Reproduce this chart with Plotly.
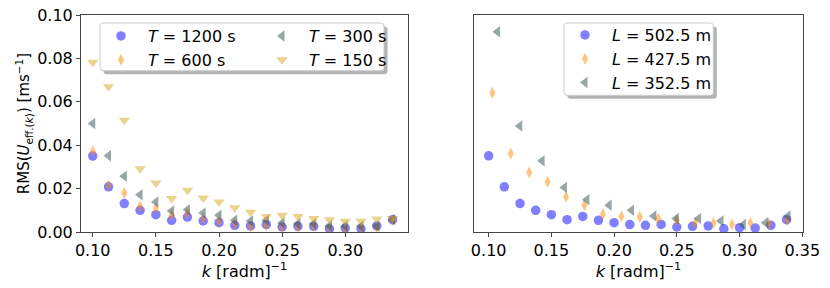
import plotly.graph_objects as go

W, H = 830, 288

# ---------------- data ----------------
k_T = [0.1000, 0.1125, 0.1250, 0.1375, 0.1500, 0.1625, 0.1750, 0.1875, 0.2000, 0.2125,
       0.2250, 0.2375, 0.2500, 0.2625, 0.2750, 0.2875, 0.3000, 0.3125, 0.3250, 0.3375]

rms_T1200 = [0.0350, 0.0208, 0.0131, 0.0100, 0.0080, 0.0054, 0.0069, 0.0051, 0.0043, 0.0031,
             0.0028, 0.0034, 0.0023, 0.0026, 0.0026, 0.0015, 0.0018, 0.0015, 0.0028, 0.0057]
rms_T600 = [0.0372, 0.0215, 0.0180, 0.0118, 0.0108, 0.0077, 0.0085, 0.0062, 0.0051, 0.0038,
            0.0026, 0.0031, 0.0023, 0.0023, 0.0028, 0.0018, 0.0015, 0.0018, 0.0023, 0.0054]
rms_T300 = [0.0500, 0.0351, 0.0257, 0.0172, 0.0138, 0.0097, 0.0103, 0.0088, 0.0077, 0.0054,
            0.0051, 0.0054, 0.0042, 0.0038, 0.0038, 0.0029, 0.0026, 0.0026, 0.0028, 0.0057]
rms_T150 = [0.0782, 0.0669, 0.0515, 0.0292, 0.0226, 0.0154, 0.0192, 0.0157, 0.0138, 0.0112,
            0.0091, 0.0072, 0.0077, 0.0072, 0.0062, 0.0057, 0.0049, 0.0049, 0.0060, 0.0062]

k_L502 = k_T
rms_L502 = [0.0351, 0.0208, 0.0131, 0.0100, 0.0080, 0.0057, 0.0072, 0.0054, 0.0043, 0.0034,
            0.0031, 0.0035, 0.0023, 0.0026, 0.0028, 0.0015, 0.0020, 0.0018, 0.0031, 0.0057]

k_L427 = [0.1029, 0.1176, 0.1323, 0.1470, 0.1617, 0.1764, 0.1911, 0.2058, 0.2205,
          0.2352, 0.2499, 0.2646, 0.2793, 0.2940, 0.3087, 0.3234, 0.3381]
rms_L427 = [0.0642, 0.0362, 0.0274, 0.0231, 0.0162, 0.0123, 0.0082, 0.0072, 0.0069,
            0.0062, 0.0054, 0.0042, 0.0042, 0.0035, 0.0042, 0.0038, 0.0054]

k_L352 = [0.1070, 0.1248, 0.1426, 0.1604, 0.1783, 0.1961, 0.2139, 0.2317, 0.2496,
          0.2674, 0.2852, 0.3030, 0.3209, 0.3387]
rms_L352 = [0.0923, 0.0488, 0.0328, 0.0205, 0.0149, 0.0123, 0.0100, 0.0074, 0.0062,
            0.0062, 0.0051, 0.0034, 0.0043, 0.0074]

labels_T = ["<i>T</i> = 1200 s", "<i>T</i> = 600 s", "<i>T</i> = 300 s", "<i>T</i> = 150 s"]
labels_L = ["<i>L</i> = 502.5 m", "<i>L</i> = 427.5 m", "<i>L</i> = 352.5 m"]

xticks_left = [0.10, 0.15, 0.20, 0.25, 0.30]
xticks_right = [0.10, 0.15, 0.20, 0.25, 0.30, 0.35]
yticks = [0.00, 0.02, 0.04, 0.06, 0.08, 0.10]

# ---------------- styles ----------------
C_BLUE = "rgb(0,0,255)"
C_ORANGE = "rgb(255,140,0)"
C_GREY = "rgb(47,79,79)"
C_GOLD = "rgb(218,165,32)"
FONT = "DejaVu Sans"
AX = "#444444"


def mk(color, symbol, size):
    return dict(color=color, symbol=symbol, size=size, opacity=0.5, line=dict(width=0))


fig = go.Figure()

fig.add_trace(go.Scatter(x=k_T, y=rms_T1200, mode="markers", name=labels_T[0],
                         marker=mk(C_BLUE, "circle", 9.5), xaxis="x", yaxis="y", legend="legend"))
fig.add_trace(go.Scatter(x=k_T, y=rms_T600, mode="markers", name=labels_T[1],
                         marker=mk(C_ORANGE, "diamond-tall", 8.5), xaxis="x", yaxis="y", legend="legend"))
fig.add_trace(go.Scatter(x=k_T, y=rms_T300, mode="markers", name=labels_T[2],
                         marker=mk(C_GREY, "triangle-left", 10), xaxis="x", yaxis="y", legend="legend3"))
fig.add_trace(go.Scatter(x=k_T, y=rms_T150, mode="markers", name=labels_T[3],
                         marker=mk(C_GOLD, "triangle-down", 10), xaxis="x", yaxis="y", legend="legend3"))

fig.add_trace(go.Scatter(x=k_L502, y=rms_L502, mode="markers", name=labels_L[0],
                         marker=mk(C_BLUE, "circle", 9.5), xaxis="x2", yaxis="y2", legend="legend2"))
fig.add_trace(go.Scatter(x=k_L427, y=rms_L427, mode="markers", name=labels_L[1],
                         marker=mk(C_ORANGE, "diamond-tall", 8.5), xaxis="x2", yaxis="y2", legend="legend2"))
fig.add_trace(go.Scatter(x=k_L352, y=rms_L352, mode="markers", name=labels_L[2],
                         marker=mk(C_GREY, "triangle-left", 10), xaxis="x2", yaxis="y2", legend="legend2"))


def px(x):
    return x / W


def py(y):
    return 1 - y / H


ydom = [py(232), py(15)]

axis_common = dict(showline=True, linecolor=AX, linewidth=1, mirror=True, showgrid=False,
                   zeroline=False, ticks="outside", ticklen=4, tickwidth=1, tickcolor=AX,
                   tickfont=dict(family=FONT, size=16, color="black"), automargin=False)

title_x = dict(text="<i>k</i> [radm]<sup>−1</sup>", font=dict(family=FONT, size=16, color="black"),
               standoff=4)

fig.update_layout(
    width=W, height=H,
    margin=dict(l=0, r=0, t=0, b=0),
    paper_bgcolor="white", plot_bgcolor="white",
    font=dict(family=FONT, size=16, color="black"),
    xaxis=dict(axis_common, domain=[px(81), px(408)], range=[0.0907, 0.3497],
               tickvals=xticks_left, tickformat=".2f", anchor="y", title=title_x),
    yaxis=dict(axis_common, domain=ydom, range=[0, 0.1], tickvals=yticks, tickformat=".2f",
               anchor="x",
               title=dict(text="RMS(<i>U</i><sub>eff.(<i>k</i>)</sub>) [ms<sup>−1</sup>]",
                          font=dict(family=FONT, size=15, color="black"), standoff=3)),
    xaxis2=dict(axis_common, domain=[px(474), px(803)], range=[0.0883, 0.3506],
                tickvals=xticks_right, tickformat=".2f", anchor="y2", title=title_x),
    yaxis2=dict(axis_common, domain=ydom, range=[0, 0.1], tickvals=yticks,
                showticklabels=False, ticks="", anchor="x2"),
    showlegend=True,
)

leg_common = dict(bgcolor="rgba(0,0,0,0)", borderwidth=0, xanchor="left", yanchor="top",
                  font=dict(family=FONT, size=16, color="black"), itemwidth=44,
                  orientation="v", tracegroupgap=0)

fig.update_layout(
    legend=dict(leg_common, x=px(94), y=py(19)),
    legend3=dict(leg_common, x=px(255), y=py(19)),
    legend2=dict(leg_common, x=px(558), y=py(18)),
)


def rrect(x0, y0, x1, y1, r=3):
    # rounded rect path in paper coords from pixel coords
    def P(x, y):
        return f"{px(x):.5f},{py(y):.5f}"
    return ("M" + P(x0 + r, y0) + " L" + P(x1 - r, y0) + " Q" + P(x1, y0) + " " + P(x1, y0 + r) +
            " L" + P(x1, y1 - r) + " Q" + P(x1, y1) + " " + P(x1 - r, y1) +
            " L" + P(x0 + r, y1) + " Q" + P(x0, y1) + " " + P(x0, y1 - r) +
            " L" + P(x0, y0 + r) + " Q" + P(x0, y0) + " " + P(x0 + r, y0) + " Z")


shapes = []
for (x0, y0, x1, y1) in [(100, 23, 384, 70.7), (564, 23, 713.3, 95.3)]:
    shapes.append(dict(type="path", xref="paper", yref="paper", layer="above",
                       path=rrect(x0 + 3.5, y0 + 3.5, x1 + 3.5, y1 + 3.5),
                       fillcolor="rgba(128,128,128,0.6)", line=dict(width=0)))
    shapes.append(dict(type="path", xref="paper", yref="paper", layer="above",
                       path=rrect(x0, y0, x1, y1),
                       fillcolor="white", line=dict(color="#cccccc", width=1)))
fig.update_layout(shapes=shapes)

fig.write_html("out.html",
               config={"displayModeBar": False},
               post_script="document.body.style.margin='0px';"
                           "document.documentElement.style.overflow='hidden';")
